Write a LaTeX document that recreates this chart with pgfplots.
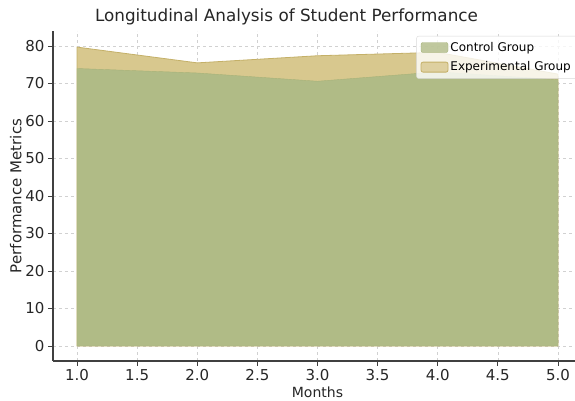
\documentclass[border=0pt]{standalone}
\usepackage{pgfplots}
\pgfplotsset{compat=1.18}
\usepackage{fontspec}
\setmainfont{DejaVu Sans}
\definecolor{ctrl}{RGB}{176,187,134}
\definecolor{ctrledge}{RGB}{166,178,120}
\definecolor{expt}{RGB}{216,200,142}
\definecolor{exptedge}{RGB}{196,176,104}
\begin{document}
\begin{tikzpicture}
\useasboundingbox (-53pt,-40pt) rectangle (522pt,361pt);
\begin{axis}[
  at={(0pt,0pt)}, anchor=south west,
  scale only axis,
  width=529pt, height=330pt,
  xmin=0.8, xmax=5.2, ymin=-4, ymax=84,
  axis x line*=bottom, axis y line*=left,
  axis line style={line width=1.2pt, color=black!75, -},
  xtick={1,1.5,2,2.5,3,3.5,4,4.5,5},
  ytick={0,10,20,30,40,50,60,70,80},
  xticklabel style={/pgf/number format/fixed,/pgf/number format/fixed zerofill,/pgf/number format/precision=1},
  /pgf/number format/assume math mode=true,
  tick label style={font=\fontsize{15}{17}\selectfont, color=black!85},
  tick style={color=black!75, line width=0.8pt},
  tick align=outside, major tick length=5pt,
  grid=major,
  grid style={dashed, color=black!18, line width=0.5pt},
  xlabel={Months}, ylabel={Performance Metrics},
  xlabel style={font=\fontsize{14}{16}\selectfont, color=black!85, yshift=1pt},
  ylabel style={font=\fontsize{15}{17}\selectfont, color=black!85, yshift=-3pt},
  title={Longitudinal Analysis of Student Performance},
  title style={font=\fontsize{16.8}{19}\selectfont, color=black!85, yshift=-4pt, xshift=-31pt},
  legend style={at={(1.0,1.0)}, anchor=north east, xshift=-5pt, yshift=-5pt,
    font=\fontsize{12}{14}\selectfont,
    draw=black!15, fill=white, fill opacity=0.8, text opacity=1, rounded corners=2pt,
    inner sep=4pt, row sep=5pt},
  legend cell align=left,
  reverse legend,
  legend image code/.code={\fill[#1] (0pt,-5pt) rectangle (27pt,5pt);},
]
\addplot[fill=expt, draw=exptedge, line width=0.8pt] coordinates {(1,79.7) (2,75.5) (3,77.4) (4,78.3) (5,72.5)} \closedcycle;
\addlegendentry{Experimental Group}
\addplot[fill=ctrl, draw=ctrledge, line width=0.4pt] coordinates {(1,74) (2,72.8) (3,70.6) (4,73.1) (5,71)} \closedcycle;
\addlegendentry{Control Group}
\end{axis}
\end{tikzpicture}
\end{document}
